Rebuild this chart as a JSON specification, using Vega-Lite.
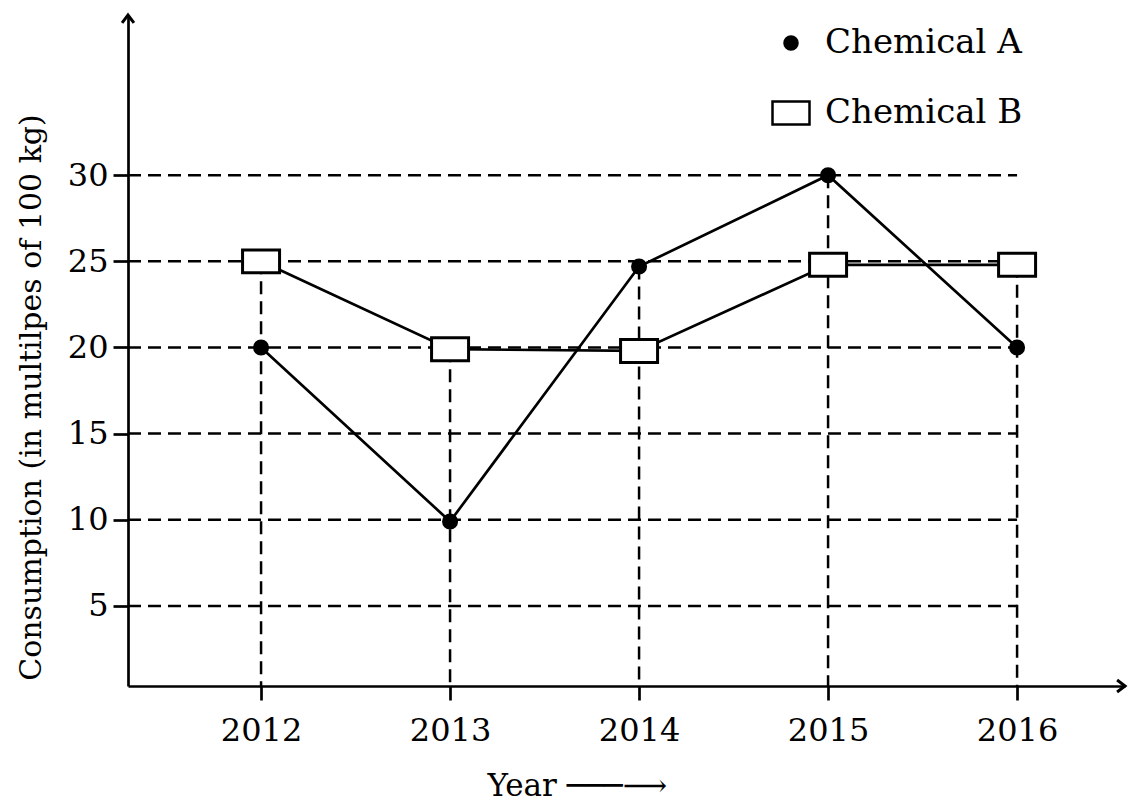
{
  "$schema": "https://vega.github.io/schema/vega-lite/v6.json",
  "width": 997,
  "height": 671,
  "autosize": {"type": "none"},
  "padding": {"left": 128, "top": 15, "right": 5, "bottom": 120},
  "background": "white",
  "datasets": {
    "main": [
      {"year": 2012, "chemical": "Chemical A", "value": 20},
      {"year": 2013, "chemical": "Chemical A", "value": 9.9},
      {"year": 2014, "chemical": "Chemical A", "value": 24.7},
      {"year": 2015, "chemical": "Chemical A", "value": 30},
      {"year": 2016, "chemical": "Chemical A", "value": 20},
      {"year": 2012, "chemical": "Chemical B", "value": 25},
      {"year": 2013, "chemical": "Chemical B", "value": 19.9},
      {"year": 2014, "chemical": "Chemical B", "value": 19.8},
      {"year": 2015, "chemical": "Chemical B", "value": 24.8},
      {"year": 2016, "chemical": "Chemical B", "value": 24.8}
    ],
    "grid": [{"v": 5}, {"v": 10}, {"v": 15}, {"v": 20}, {"v": 25}, {"v": 30}]
  },
  "layer": [
    {
      "data": {"name": "grid"},
      "mark": {"type": "rule", "color": "black", "strokeWidth": 2.5, "strokeDash": [13, 7]},
      "encoding": {
        "y": {
          "field": "v", "type": "quantitative",
          "scale": {"domain": [0.35, 39.3], "nice": false, "zero": false},
          "axis": {
            "values": [5, 10, 15, 20, 25, 30],
            "title": "Consumption (in multilpes of 100 kg)",
            "grid": false,
            "tickSize": 15,
            "labelPadding": 5,
            "titleX": -88,
            "titleY": 382,
            "titleAlign": "center",
            "titleBaseline": "alphabetic",
            "titleAngle": -90
          }
        },
        "x": {
          "datum": 2011.296, "type": "quantitative",
          "scale": {"domain": [2011.296, 2016.571], "nice": false, "zero": false},
          "axis": {
            "values": [2012, 2013, 2014, 2015, 2016],
            "format": "d",
            "title": "Year ───⟶",
            "grid": false,
            "tickSize": 14,
            "labelPadding": 15,
            "titleX": 359,
            "titleY": 109,
            "titleAlign": "left",
            "titleBaseline": "alphabetic",
            "titleAnchor": null
          }
        },
        "x2": {"datum": 2016}
      }
    },
    {
      "data": {"name": "main"},
      "transform": [{"aggregate": [{"op": "max", "field": "value", "as": "maxv"}], "groupby": ["year"]}],
      "mark": {"type": "rule", "color": "black", "strokeWidth": 2.5, "strokeDash": [13, 7]},
      "encoding": {
        "x": {"field": "year", "type": "quantitative"},
        "y": {"field": "maxv", "type": "quantitative"},
        "y2": {"datum": 0.35}
      }
    },
    {
      "data": {"name": "main"},
      "mark": {"type": "line", "color": "black", "strokeWidth": 2.7},
      "encoding": {
        "x": {"field": "year", "type": "quantitative"},
        "y": {"field": "value", "type": "quantitative"},
        "detail": {"field": "chemical", "type": "nominal"}
      }
    },
    {
      "data": {"name": "main"},
      "mark": {"type": "point", "filled": true, "strokeWidth": 3, "opacity": 1},
      "encoding": {
        "x": {"field": "year", "type": "quantitative"},
        "y": {"field": "value", "type": "quantitative"},
        "shape": {
          "field": "chemical", "type": "nominal", "title": null,
          "scale": {"domain": ["Chemical A", "Chemical B"], "range": ["circle", "M-1,-0.62L1,-0.62L1,0.62L-1,0.62Z"]}
        },
        "fill": {
          "field": "chemical", "type": "nominal", "title": null,
          "scale": {"domain": ["Chemical A", "Chemical B"], "range": ["black", "white"]}
        },
        "stroke": {
          "field": "chemical", "type": "nominal", "title": null,
          "scale": {"domain": ["Chemical A", "Chemical B"], "range": ["black", "black"]}
        },
        "size": {
          "field": "chemical", "type": "nominal", "title": null,
          "scale": {"domain": ["Chemical A", "Chemical B"], "range": [170, 1369]}
        }
      }
    },
    {
      "data": {"values": [{}]},
      "mark": {"type": "point", "shape": "M-1,-0.75L0,0L-1,0.75", "filled": false, "stroke": "black", "strokeWidth": 3, "size": 250, "opacity": 1},
      "encoding": {
        "x": {"datum": 2016.571, "type": "quantitative"},
        "y": {"datum": 0.35, "type": "quantitative"}
      }
    },
    {
      "data": {"values": [{}]},
      "mark": {"type": "point", "shape": "M-0.75,1L0,0L0.75,1", "filled": false, "stroke": "black", "strokeWidth": 3, "size": 250, "opacity": 1},
      "encoding": {
        "x": {"datum": 2011.296, "type": "quantitative"},
        "y": {"datum": 39.3, "type": "quantitative"}
      }
    }
  ],
  "config": {
    "view": {"stroke": null},
    "font": "DejaVu Serif",
    "axis": {
      "domainColor": "black",
      "domainWidth": 2.7,
      "tickColor": "black",
      "tickWidth": 2.7,
      "labelFont": "DejaVu Serif",
      "labelFontSize": 32,
      "labelColor": "black",
      "labelFontWeight": "normal",
      "titleFont": "DejaVu Serif",
      "titleFontSize": 30,
      "titleColor": "black",
      "titleFontWeight": "normal"
    },
    "axisX": {"titleFontSize": 31},
    "legend": {
      "orient": "none",
      "legendX": 643,
      "legendY": 11,
      "padding": 0,
      "rowPadding": 33,
      "labelOffset": 14,
      "labelFont": "DejaVu Serif",
      "labelFontSize": 34,
      "labelColor": "black",
      "labelLimit": 400,
      "symbolStrokeWidth": 2.5
    }
  }
}
